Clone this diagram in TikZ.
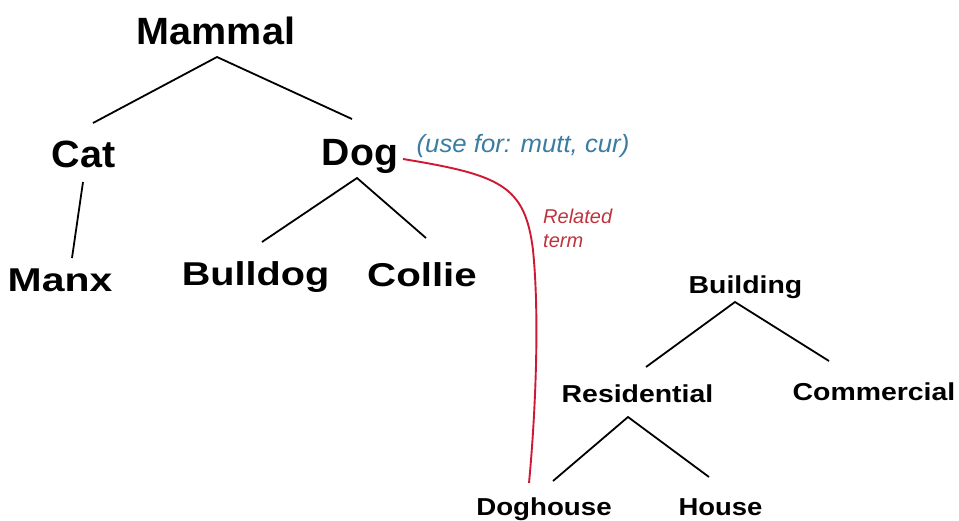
\documentclass[tikz,border=0pt]{standalone}
\usepackage{fontspec}
\usepackage{graphicx}
\setmainfont{Liberation Sans}
\usetikzlibrary{calc}

\definecolor{noteblue}{RGB}{58,124,162}
\definecolor{notered}{RGB}{190,52,62}
\definecolor{linkred}{RGB}{208,24,52}

\newcommand{\wide}[2]{\scalebox{#1}[1]{#2}}

\tikzset{
  term/.style={anchor=base, inner sep=0pt, font=\bfseries},
  big/.style={term, font=\bfseries\fontsize{38}{40}\selectfont},
  mid/.style={term, font=\bfseries\fontsize{33}{35}\selectfont},
  small/.style={term, font=\bfseries\fontsize{24.5}{27}\selectfont},
  usefor/.style={anchor=base, inner sep=0pt, text=noteblue,
    font=\itshape\fontsize{25}{27}\selectfont},
  relnote/.style={anchor=base west, inner sep=0pt, text=notered, align=left,
    font=\itshape\fontsize{20}{24}\selectfont},
  branch/.style={line width=1.8pt, black},
  relation/.style={line width=1.9pt, linkred},
}

\begin{document}
\begin{tikzpicture}[x=1pt, y=-1pt]
  \useasboundingbox[fill=white] (0,0) rectangle (959,520);

  % animal hierarchy
  \node[big] (mammal) at (216,44) {\wide{1.04}{Mammal}};
  \node[big] (cat) at (83.5,167) {\wide{1.04}{Cat}};
  \node[big] (dog) at (360,165) {\wide{1.03}{Dog}};
  \node[mid] (manx) at (60,291) {\wide{1.24}{Manx}};
  \node[mid] (bulldog) at (255.5,285) {\wide{1.2}{Bulldog}};
  \node[mid] (collie) at (422,286) {\wide{1.22}{Collie}};

  % building hierarchy
  \node[small] (building) at (745.5,293) {\wide{1.16}{Building}};
  \node[small] (residential) at (637.5,402) {\wide{1.16}{Residential}};
  \node[small] (commercial) at (874,400) {\wide{1.16}{Commercial}};
  \node[small] (doghouse) at (544,515) {\wide{1.13}{Doghouse}};
  \node[small] (house) at (720.5,515) {\wide{1.12}{House}};

  % notes (the two-line note sits on the baseline of its last line)
  \node[usefor] (usefor) at (523,152) {\wide{1.03}{(use for: mutt, cur)}};
  \node[relnote] (related) at (543,247) {Related\\term};

  % broader / narrower links
  \draw[branch] ($(cat.base)+(9.5,-44)$) -- ($(mammal.base)+(1,13)$)
                -- ($(dog.base)+(-8,-46)$);
  \draw[branch] ($(cat.base)+(-0.5,15)$) -- ($(manx.base)+(12,-33)$);
  \draw[branch] ($(bulldog.base)+(6.5,-43)$) -- ($(dog.base)+(-3,13)$)
                -- ($(collie.base)+(4,-48)$);
  \draw[branch] ($(residential.base)+(8.5,-35)$) -- ($(building.base)+(-10.5,9)$)
                -- ($(commercial.base)+(-45,-39)$);
  \draw[branch] ($(doghouse.base)+(9,-34)$) -- ($(residential.base)+(-9.5,15)$)
                -- ($(house.base)+(-11.5,-38)$);

  % related-term link
  \draw[relation] ($(dog.base)+(43,-6)$)
    .. controls (500,175) and (525,185) .. (533,250)
    .. controls (540,320) and (535,420) .. ($(doghouse.base)+(-15,-32)$);
\end{tikzpicture}
\end{document}
